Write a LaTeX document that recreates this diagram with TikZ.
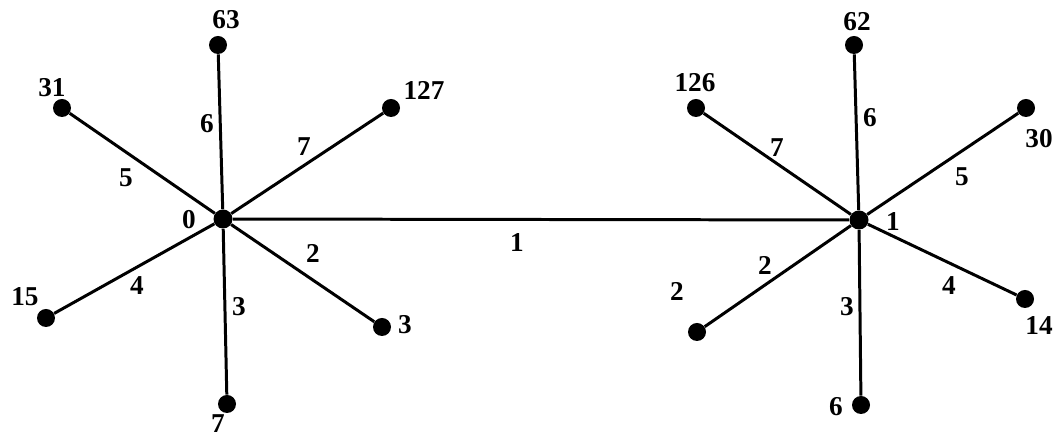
\documentclass[tikz,border=0pt]{standalone}
\usepackage{fontspec}
\setmainfont{Liberation Serif}

\begin{document}
\begin{tikzpicture}[
    vert/.style={circle, fill=black, inner sep=0pt, minimum size=0.36cm},
    hub/.style={circle, fill=black, inner sep=0pt, minimum size=0.38cm},
    txt/.style={font=\bfseries\fontsize{15.5}{17}\selectfont, inner sep=0pt},
    link/.style={line width=1.7pt}
]
    \useasboundingbox (0,0) rectangle (21.12,8.78);

    % -----------------------------------------------------
    % 1) Los dos centros, unidos por la arista de peso 1
    % -----------------------------------------------------
    \node[hub] (c0) at (4.46,4.40) {};
    \node[hub] (c1) at (17.18,4.38) {};
    \node[txt] (t0) at (3.78,4.38) {0};
    \node[txt] (t1) at (17.86,4.34) {1};
    \draw[link] (c0) -- (c1);
    \node[txt] (e01) at (10.34,3.92) {1};

    % -----------------------------------------------------
    % 2) Estrella del vertice 0
    % -----------------------------------------------------
    \node[vert] (v63)  at (4.36,7.88) {};
    \node[vert] (v31)  at (1.24,6.62) {};
    \node[vert] (v127) at (7.82,6.62) {};
    \node[vert] (v15)  at (0.92,2.42) {};
    \node[vert] (v3)   at (7.64,2.24) {};
    \node[vert] (v7)   at (4.54,0.70) {};

    \draw[link] (c0) -- (v63);
    \draw[link] (c0) -- (v31);
    \draw[link] (c0) -- (v127);
    \draw[link] (c0) -- (v15);
    \draw[link] (c0) -- (v3);
    \draw[link] (c0) -- (v7);

    % etiquetas de los vertices
    \node[txt] (t63)  at (4.52,8.38) {63};
    \node[txt] (t31)  at (1.04,7.02) {31};
    \node[txt] (t127) at (8.48,6.98) {127};
    \node[txt] (t15)  at (0.50,2.84) {15};
    \node[txt] (t3)   at (8.10,2.28) {3};
    \node[txt] (t7)   at (4.36,0.30) {7};

    % pesos de las aristas
    \node[txt] (w06) at (4.14,6.30) {6};
    \node[txt] (w07) at (6.08,5.84) {7};
    \node[txt] (w05) at (2.52,5.22) {5};
    \node[txt] (w04) at (2.74,3.06) {4};
    \node[txt] (w03) at (4.78,2.64) {3};
    \node[txt] (w02) at (6.26,3.72) {2};

    % -----------------------------------------------------
    % 3) Estrella del vertice 1
    % -----------------------------------------------------
    \node[vert] (v62)  at (17.08,7.88) {};
    \node[vert] (v126) at (13.92,6.62) {};
    \node[vert] (v30)  at (20.52,6.62) {};
    \node[vert] (v2)   at (13.94,2.14) {};
    \node[vert] (v6)   at (17.22,0.68) {};
    \node[vert] (v14)  at (20.50,2.80) {};

    \draw[link] (c1) -- (v62);
    \draw[link] (c1) -- (v126);
    \draw[link] (c1) -- (v30);
    \draw[link] (c1) -- (v2);
    \draw[link] (c1) -- (v6);
    \draw[link] (c1) -- (v14);

    % etiquetas de los vertices
    \node[txt] (t62)  at (17.14,8.34) {62};
    \node[txt] (t126) at (13.90,7.12) {126};
    \node[txt] (t30)  at (20.78,6.00) {30};
    \node[txt] (t2)   at (13.54,2.96) {2};
    \node[txt] (t6)   at (16.72,0.64) {6};
    \node[txt] (t14)  at (20.78,2.26) {14};

    % pesos de las aristas
    \node[txt] (w16) at (17.40,6.42) {6};
    \node[txt] (w17) at (15.54,5.82) {7};
    \node[txt] (w15) at (19.24,5.24) {5};
    \node[txt] (w12) at (15.30,3.48) {2};
    \node[txt] (w13) at (16.94,2.64) {3};
    \node[txt] (w14) at (18.98,3.06) {4};

\end{tikzpicture}
\end{document}
